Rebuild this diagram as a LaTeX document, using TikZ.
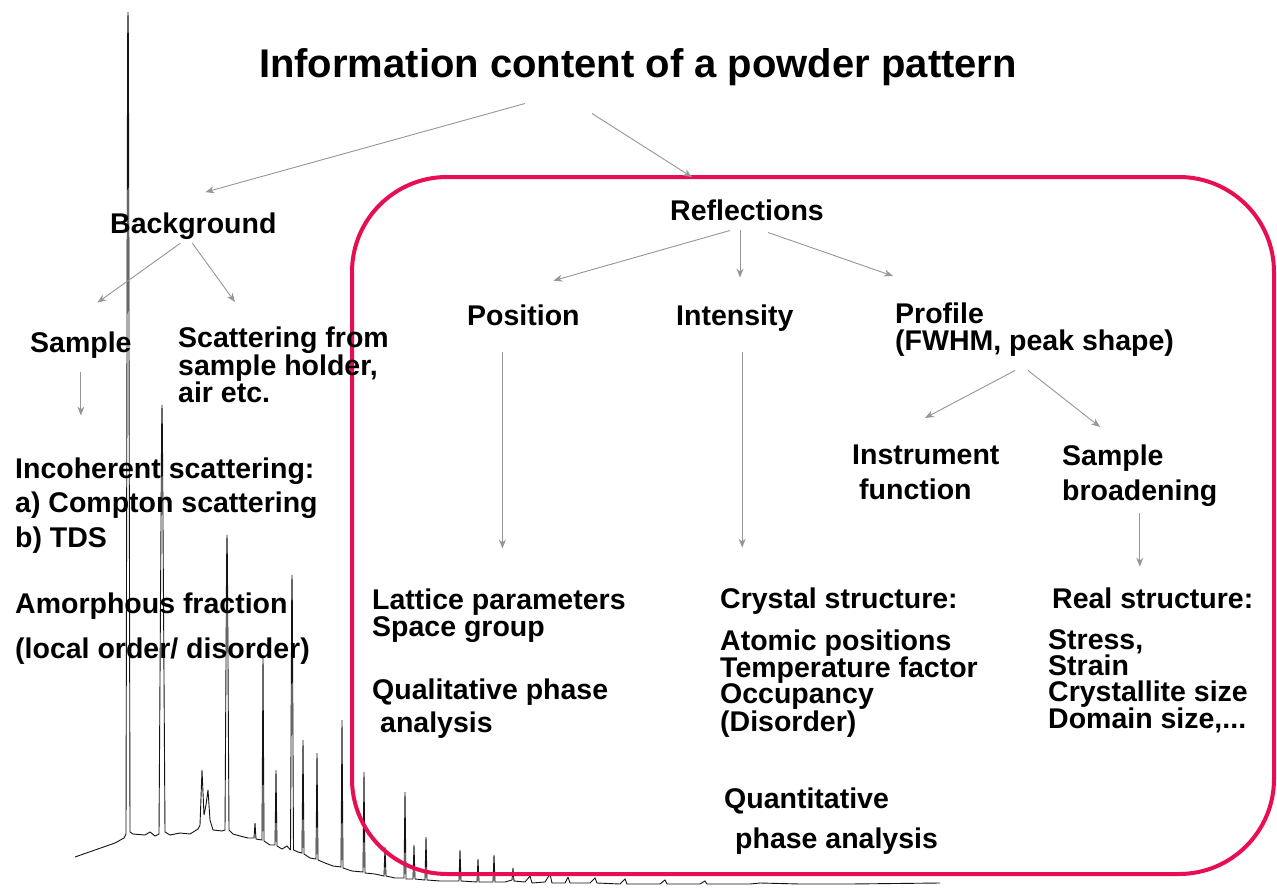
\documentclass[tikz,border=0pt]{standalone}
\usepackage{fontspec}
\setmainfont{Liberation Sans}
\usetikzlibrary{arrows.meta,calc}
\definecolor{boxred}{RGB}{232,14,82}
\definecolor{arrgray}{RGB}{150,150,150}
\definecolor{pattern}{RGB}{20,20,20}
\newcommand\bfsz[1]{\fontsize{28.5}{#1}\selectfont\bfseries}
\tikzset{
  txt/.style={anchor=base west, inner sep=0pt, font=\bfsz{30}},
  txtm/.style={anchor=north west, inner sep=0pt, align=left, font=\bfsz{#1}},
  arr/.style={draw=arrgray, line width=0.9pt, -{Stealth[length=9pt,width=7pt]}},
  powder/.style={draw=pattern, line width=0.9pt, line join=miter, miter limit=2},
  redbox/.style={draw=boxred, line width=4pt, rounded corners=95pt}
}
\begin{document}
\begin{tikzpicture}[x=1pt,y=-1pt]
\useasboundingbox (0,0) rectangle (1277,888);
\fill[white] (0,0) rectangle (1277,888);

% powder pattern
\draw[powder] (75,857) -- (95,850) -- (115,843) -- (124,838)
 -- (126,834) -- (127.6,40) -- (128,12) -- (128.4,40) -- (130,832) -- (133,834)
 -- (145,835) -- (150,832) -- (155,836)
 -- (159,834) -- (161.6,430) -- (162,405) -- (162.4,430) -- (165,832) -- (170,835)
 -- (180,833) -- (190,834) -- (198,829)
 -- (200,825) -- (202,770) -- (204,815) -- (206,805) -- (208,790) -- (210,820) -- (213,830)
 -- (222,831)
 -- (225,830) -- (226.6,560) -- (227,535) -- (227.4,560) -- (229,830) -- (233,834)
 -- (240,836) -- (248,838)
 -- (254,838) -- (255,823) -- (256,839)
 -- (262,840) -- (263,655) -- (264,841)
 -- (270,845)
 -- (275,845) -- (276,770) -- (277,846)
 -- (282,849) -- (287,846)
 -- (290.5,850) -- (291.7,600) -- (292,575) -- (292.3,600) -- (293.5,850)
 -- (298,852)
 -- (302,853) -- (303,740) -- (304,854)
 -- (310,858)
 -- (316,859) -- (317,753) -- (318,860)
 -- (325,863) -- (333,866)
 -- (341,867) -- (342,720) -- (343,868)
 -- (352,871)
 -- (363,872) -- (364,772) -- (365,873)
 -- (375,874)
 -- (384,876) -- (385,847) -- (386,876)
 -- (395,878)
 -- (404,878) -- (405,792) -- (406,879)
 -- (413,879) -- (414,845) -- (415,879)
 -- (425,880) -- (426,837) -- (427,880)
 -- (440,881)
 -- (459,881) -- (460,850) -- (461,881)
 -- (477,882) -- (478,859) -- (479,882)
 -- (493,882) -- (494,855) -- (495,882)
 -- (505,882) -- (512,880) -- (513,868) -- (514,881) -- (525,882) -- (530,876) -- (532,883)
 -- (545,882) -- (550,874) -- (552,883) -- (565,883) -- (568,877) -- (570,883)
 -- (590,883) -- (595,878) -- (597,883) -- (620,884) -- (625,879) -- (627,884)
 -- (660,884) -- (665,880) -- (667,884) -- (700,884) -- (705,881) -- (707,884)
 -- (750,884) -- (760,883) -- (800,884) -- (850,884) -- (940,883);

% red frame
\draw[redbox] (352,177) rectangle (1274,874);

% texts
\node[anchor=base, inner sep=0pt, font=\fontsize{40}{48}\selectfont\bfseries] (title) at (638,78) {Information content of a powder pattern};
\node[txt] (bg) at (110,233) {Background};
\node[txt] (refl) at (670,220) {Reflections};
\node[txt] (samp) at (30,352) {Sample};
\node[txtm={24}] (scat) at (178,326.5) {Scattering from\\sample holder,\\air etc.};
\node[txt] (pos) at (467,325) {Position};
\node[txt] (int) at (676,325) {Intensity};
\node[txtm={27}] (prof) at (895,302.5) {Profile\\(FWHM, peak shape)};
\node[txtm={34.5}] (incoh) at (15,457.5) {Incoherent scattering:\\a) Compton scattering\\b) TDS};
\node[txtm={45}] (amor) at (15,592.5) {Amorphous fraction\\(local order/ disorder)};
\node[txtm={35}] (instr) at (852,444.5) {Instrument\\\hspace*{7pt}function};
\node[txtm={35}] (sbroad) at (1062,444.5) {Sample\\broadening};
\node[txtm={27}] (lat) at (372,588.5) {Lattice parameters\\Space group};
\node[txtm={33}] (qual) at (372,678.5) {Qualitative phase\\\hspace*{8pt}analysis};
\node[txt] (crys) at (720,608) {Crystal structure:};
\node[txtm={26}] (atom) at (720,629.5) {Atomic positions\\Temperature factor\\Occupancy\\(Disorder)};
\node[txt] (real) at (1052,608) {Real structure:};
\node[txtm={25.7}] (stress) at (1048,629.5) {Stress,\\Strain\\Crystallite size\\Domain size,...};
\node[txtm={40}] (quant) at (724,787.5) {Quantitative\\\hspace*{11pt}phase analysis};

% connectors
\draw[arr] ($(title.south)+(-113,17)$) -- ($(bg.north)+(12,-20)$);
\draw[arr] ($(title.south)+(-46,27)$) -- ($(refl.north)+(-55,-22)$);
\draw[arr] ($(bg.south)+(-13,4)$) -- ($(samp.north)+(16.5,-28.5)$);
\draw[arr] ($(bg.south)+(-1,4)$) -- ($(scat.north west)+(57,-24.5)$);
\coordinate (s1) at ($(samp.south)+(0,14)$);
\coordinate (e1) at ($(incoh.north west)+(65,-42)$);
\draw[arr] (s1) -- (s1 |- e1);
\draw[arr] ($(refl.south)+(-17,10)$) -- ($(pos.north)+(30,-23.5)$);
\coordinate (s2) at ($(refl.south)+(-7,10)$);
\coordinate (e2) at ($(int.north)+(0,-26.5)$);
\draw[arr] (s2) -- (s2 |- e2);
\draw[arr] ($(refl.south)+(21,12)$) -- ($(prof.north west)+(-2,-26.5)$);
\coordinate (s3) at ($(pos.south)+(-21,27)$);
\coordinate (e3) at ($(lat.north west)+(0,-40)$);
\draw[arr] (s3) -- (s3 |- e3);
\coordinate (s4) at ($(int.south)+(7.4,21)$);
\coordinate (e4) at ($(crys.north west)+(0,-39.5)$);
\draw[arr] (s4) -- (s4 |- e4);
\draw[arr] ($(prof.south)+(-19.5,14)$) -- ($(instr.north west)+(73,-26.5)$);
\draw[arr] ($(prof.south)+(-6.5,14)$) -- ($(sbroad.north west)+(38,-17.5)$);
\coordinate (s5) at ($(sbroad.south)+(0,6)$);
\coordinate (e5) at ($(real.north west)+(0,-20.5)$);
\draw[arr] (s5) -- (s5 |- e5);
\end{tikzpicture}
\end{document}
